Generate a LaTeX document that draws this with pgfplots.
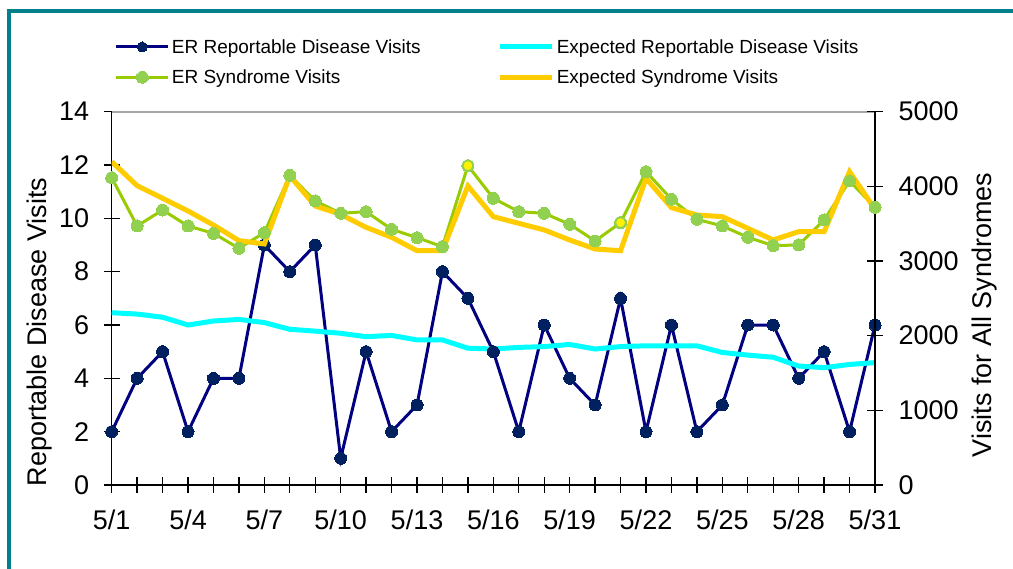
\documentclass[border=0pt]{standalone}
\usepackage{fontspec}
\setmainfont{Liberation Sans}
\usepackage{pgfplots}
\usepackage{pgfplotstable}
\pgfplotsset{compat=1.18}
\definecolor{navyline}{RGB}{0,0,128}
\definecolor{navymark}{RGB}{0,32,96}
\definecolor{greenline}{RGB}{153,204,0}
\definecolor{greenmark}{RGB}{146,208,80}
\definecolor{cyanline}{RGB}{0,255,255}
\definecolor{goldline}{RGB}{255,204,0}
\definecolor{frameteal}{RGB}{0,128,138}

\pgfplotstableread{
x erd exd ers exs
0 2 6.46 4116 4330
1 4 6.41 3469 4009
2 5 6.29 3683 3840
3 2 6.00 3469 3670
4 4 6.15 3371 3482
5 4 6.21 3170 3273
6 9 6.09 3380 3228
7 8 5.84 4148 4139
8 9 5.77 3804 3737
9 1 5.69 3639 3625
10 5 5.56 3661 3451
11 2 5.61 3425 3318
12 3 5.44 3313 3138
13 8 5.44 3192 3138
14 7 5.13 4277 4005
15 5 5.10 3840 3594
16 2 5.16 3661 3505
17 6 5.19 3639 3416
18 4 5.27 3492 3282
19 3 5.10 3268 3161
20 7 5.19 3514 3138
21 2 5.22 4197 4108
22 6 5.22 3827 3715
23 2 5.22 3559 3616
24 3 4.97 3469 3594
25 6 4.87 3318 3438
26 6 4.79 3206 3282
27 4 4.46 3215 3393
28 5 4.40 3550 3393
29 2 4.52 4072 4197
30 6 4.59 3719 3692
}\datatable

\pgfplotstableread{
x ers
14 4277
20 3514
}\flagtable

\begin{document}
\begin{tikzpicture}[x=1pt,y=1pt]
\useasboundingbox (0,0) rectangle (1013,569);
\fill[white] (0,0) rectangle (1013,569);
\draw[frameteal, line width=4pt] (9,-5) -- (9,558) -- (1020,558);

\pgfplotsset{
  common/.style={
    at={(111.7pt,84pt)}, anchor=south west,
    scale only axis, width=763.3pt, height=373.3pt,
    xmin=0, xmax=30,
    tick align=center,
    major tick length=16pt, minor tick length=16pt,
    tick style={black, line width=1.3pt},
    axis line style={black, line width=1.5pt},
    tick label style={font=\fontsize{27}{32}\selectfont},
    label style={font=\fontsize{27}{32}\selectfont},
    /pgf/number format/assume math mode=true,
    /pgf/number format/set thousands separator={},
  }
}

\begin{axis}[common,
  ymin=0, ymax=14,
  axis y line*=left, axis x line*=bottom,
  xtick={0,3,...,30},
  xticklabels={5/1,5/4,5/7,5/10,5/13,5/16,5/19,5/22,5/25,5/28,5/31},
  minor xtick={0,...,30},
  ytick={0,2,...,14},
  xticklabel style={yshift=-13pt},
  yticklabel style={xshift=-11pt},
  ylabel={Reportable Disease Visits},
  ylabel style={at={(rel axis cs:-0.094,0.41)}, anchor=center},
]
\draw[gray!70, line width=2pt] (rel axis cs:0,1) -- (rel axis cs:1,1);
\addplot[navyline, line width=3pt, mark=*, mark size=6pt,
  mark options={fill=navymark, draw=navymark, line width=0pt}] table[x=x,y=erd]{\datatable};
\addplot[cyanline, line width=5pt] table[x=x,y=exd]{\datatable};
\end{axis}

\begin{axis}[common,
  ymin=0, ymax=5000,
  axis y line*=right, axis x line=none,
  ytick={0,1000,...,5000},
  yticklabel style={xshift=12pt},
  ylabel={Visits for All Syndromes},
  ylabel style={at={(rel axis cs:1.144,0.455)}, anchor=center},
  legend columns=2,
  legend cell align=left,
  legend style={at={(rel axis cs:0.0,1.205)}, anchor=north west, draw=none, fill=none,
    font=\fontsize{19}{22}\selectfont,
    /tikz/every even column/.append style={column sep=75pt},
    row sep=11pt},
  legend image code/.code={\draw[#1, mark repeat=2, mark phase=2] plot coordinates {(0pt,0pt) (26pt,0pt) (52pt,0pt)};},
]
\addlegendimage{navyline, line width=3pt, mark=*, mark size=5pt, mark options={fill=navymark, draw=navymark, line width=0pt}}
\addlegendentry{ER Reportable Disease Visits}
\addlegendimage{cyanline, line width=5pt}
\addlegendentry{Expected Reportable Disease Visits}
\addplot[greenline, line width=3pt, mark=*, mark size=6pt,
  mark options={fill=greenmark, draw=greenmark, line width=0pt}] table[x=x,y=ers]{\datatable};
\addlegendentry{ER Syndrome Visits}
\addplot[goldline, line width=5pt] table[x=x,y=exs]{\datatable};
\addlegendentry{Expected Syndrome Visits}
\addplot[only marks, forget plot, mark=*, mark size=5pt,
  mark options={fill=yellow, draw=greenmark, line width=1pt}] table[x=x,y=ers]{\flagtable};
\end{axis}
\end{tikzpicture}
\end{document}
